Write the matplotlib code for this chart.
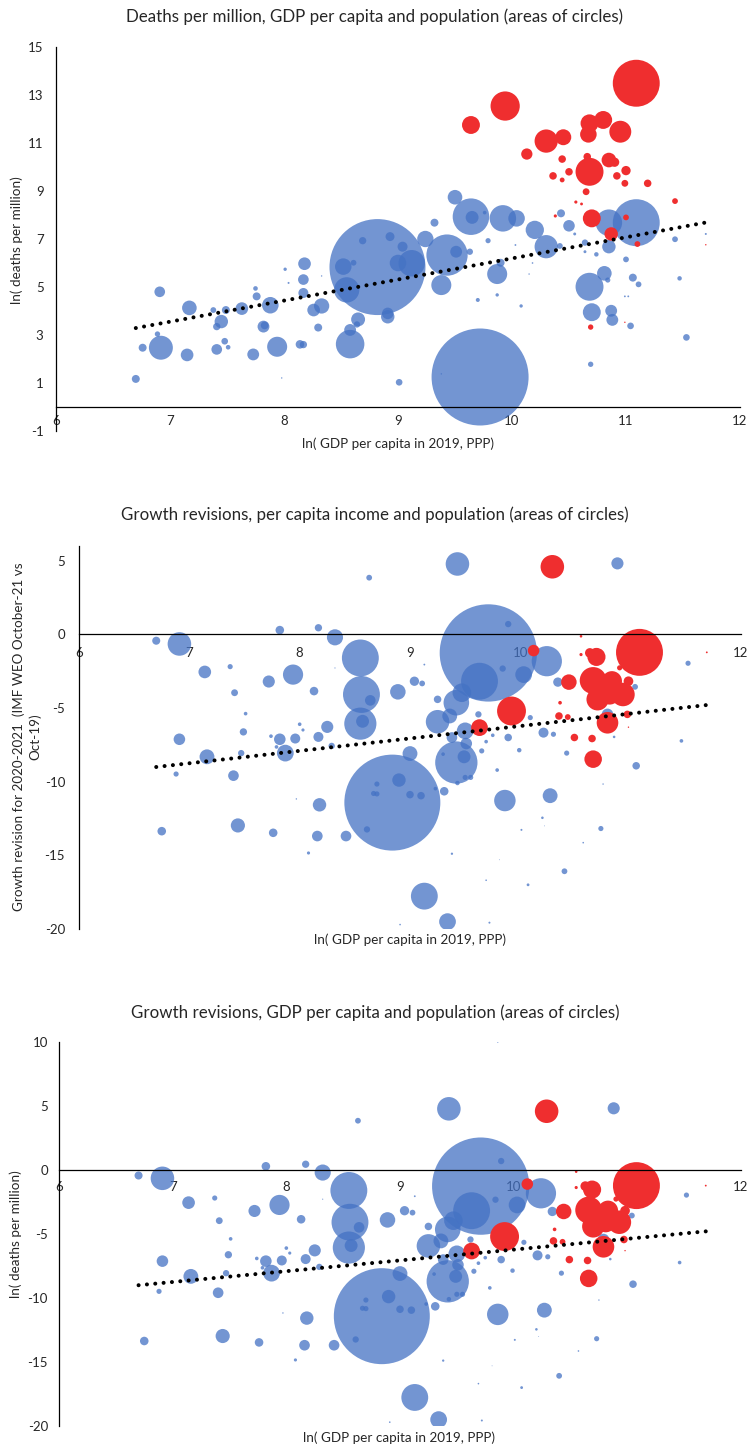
import matplotlib
matplotlib.use("Agg")
import matplotlib.pyplot as plt
import numpy as np

plt.rcParams['font.family'] = ['Lato', 'DejaVu Sans']
plt.rcParams['axes.unicode_minus'] = False

# ---- panel 1: ln(deaths per million) vs ln(GDP per capita) ----
# blue series: x, y, population (millions)
d_blue_x = [6.70, 6.91, 6.76, 6.92, 6.89, 7.17, 7.15, 7.38, 7.45, 7.41, 7.49, 7.41, 7.48, 7.51,
            7.63, 7.75, 7.76, 7.73, 7.82, 7.83, 7.88, 7.94, 7.98, 8.01, 8.04, 8.18, 8.17, 8.17,
            8.26, 8.33, 8.14, 8.17, 8.30, 8.33, 8.58, 8.58, 8.65, 8.64, 8.52, 8.55, 8.69, 8.61,
            8.82, 9.72, 9.01, 9.38, 8.91, 8.91, 9.87, 9.90, 9.70, 9.87, 10.08, 10.68, 10.81, 10.84,
            10.70, 10.87, 10.88, 11.04, 10.69, 10.99, 11.02, 11.06, 11.11, 11.00, 11.47, 11.53,
            11.43, 11.70, 10.85, 10.74, 10.64, 10.30, 10.42, 10.55, 10.64, 9.79, 10.03, 10.15,
            10.18, 9.43, 9.38, 9.24, 9.12, 9.00, 9.04, 8.93, 9.51, 9.63, 9.50, 9.64, 9.65, 9.32,
            9.76, 9.92, 10.04, 10.43, 10.85, 11.09, 10.20, 10.50]
d_blue_y = [1.17, 4.80, 2.47, 2.47, 3.04, 4.13, 2.17, 4.04, 3.56, 3.35, 4.04, 2.40, 2.74, 2.49,
            4.10, 4.94, 4.61, 2.19, 3.35, 3.40, 4.24, 2.51, 1.21, 5.74, 5.17, 5.97, 5.31, 4.75,
            4.04, 4.21, 2.61, 2.60, 3.31, 5.46, 2.62, 3.21, 3.65, 3.44, 5.85, 4.88, 6.93, 6.01,
            5.83, 1.25, 1.03, 1.38, 3.76, 3.90, 5.54, 6.01, 4.46, 4.67, 4.21, 5.01, 5.57, 5.29,
            3.95, 4.01, 3.63, 3.38, 1.78, 4.61, 4.61, 5.39, 5.11, 6.15, 5.36, 2.90,
            6.99, 7.21, 6.68, 6.36, 6.85, 6.68, 6.71, 7.21, 6.47, 6.93, 6.75, 5.54,
            6.00, 6.33, 5.08, 7.00, 5.99, 6.00, 6.68, 7.10, 6.47, 6.47, 8.74, 7.93, 7.90, 7.68,
            8.10, 7.86, 7.86, 8.07, 7.68, 7.68, 7.38, 7.55]
d_blue_pop = [9.5, 17, 9.5, 86, 4.3, 32, 24, 5, 27, 8, 9.5, 17, 6.6, 3.2,
              24, 3.2, 9.5, 21, 21, 9, 41, 60, 0.3, 1.7, 0.6, 24, 17, 15,
              24, 35, 11, 8, 9.5, 0.3, 122, 21, 29, 6, 41, 96, 8, 5,
              1380, 1410, 6.6, 0.3, 27, 20, 60, 9.5, 2.4, 1.7, 1.7, 117, 32, 4,
              48, 21, 21, 6.6, 4.3, 0.5, 0.5, 9.5, 5, 5, 3, 6.6,
              5, 0.6, 27, 3, 6, 81, 5, 1.3, 1.3, 4, 0.5, 0.3,
              0.4, 255, 60, 40, 105, 41, 15, 12, 21, 6, 32, 200, 25, 9.5,
              2, 105, 41, 9.5, 105, 330, 50, 20]
# red series
d_red_x = [11.09, 9.94, 9.64, 10.30, 10.45, 10.68, 10.80, 10.95, 10.67, 10.13, 10.68, 10.85,
           10.90, 10.66, 10.44, 10.36, 10.50, 10.44, 11.00, 10.92, 10.99, 11.19, 10.65, 10.56,
           10.61, 10.38, 10.70, 11.00, 11.43, 11.10, 10.87, 11.70, 10.69, 10.99]
d_red_y = [13.49, 12.54, 11.75, 11.08, 11.24, 11.82, 11.96, 11.47, 11.36, 10.54, 9.80, 10.29,
           10.20, 10.43, 10.33, 9.63, 9.80, 9.46, 9.85, 9.63, 9.32, 9.32, 8.97, 8.54,
           8.46, 7.96, 7.86, 7.90, 8.58, 6.79, 7.21, 6.76, 3.33, 3.53]
d_red_pop = [330, 128, 48, 81, 38, 48, 48, 72, 41, 19, 117, 32,
             13, 8.5, 8.5, 8.5, 8.5, 3.5, 13, 8.5, 7, 8.5, 7, 1.5,
             1.2, 1.5, 48, 5, 5, 5, 27, 0.3, 4.3, 0.3]
d_trend = (0.8795, -2.603)   # slope, intercept

# ---- panels 2 and 3: growth revision 2020-2021 vs ln(GDP per capita) ----
g_blue_x = [6.70, 6.91, 7.14, 7.37, 7.41, 7.51, 7.72, 7.82, 7.94, 8.13, 8.17, 8.32, 8.63, 8.55,
            8.56, 8.64, 8.55, 8.57, 8.00, 8.25, 8.32, 7.49, 6.91, 7.16, 6.88, 6.75, 7.40, 7.44,
            7.47, 7.76, 7.74, 7.82, 7.96, 7.87, 7.79, 8.17, 8.29, 8.03, 8.18, 8.16, 8.42, 8.61,
            7.97, 8.08, 8.67, 8.84, 8.90, 9.00, 9.10, 8.70, 8.70, 9.00, 9.30, 9.23, 9.31, 9.42,
            9.49, 9.50, 9.55, 9.43, 9.50, 9.51, 9.38, 9.25, 9.86, 10.27, 9.79, 9.99, 9.65, 9.69,
            9.75, 9.89, 10.21, 10.30, 10.42, 10.85, 11.05, 11.46, 10.75, 10.20, 10.01, 10.22,
            10.73, 10.57, 10.40, 10.07, 9.69, 9.81, 9.38, 9.13, 9.34, 8.91, 9.72, 9.43, 10.88,
            9.71, 9.89, 10.24, 9.63, 9.84, 10.03, 10.34, 11.52, 9.13, 11.04, 9.25, 9.42, 9.36,
            9.47, 9.62, 8.89, 9.04, 9.11, 10.09, 10.79, 9.86]
g_blue_y = [-0.43, -0.65, -2.55, -2.19, -3.96, -5.38, -3.20, 0.29, -2.73, -3.85, 0.45, -0.20, 3.85, -1.60,
            -4.08, -4.48, -6.06, -5.90, -6.10, -6.28, -2.28, -6.62, -7.12, -8.31, -9.48, -13.36, -9.59, -12.97,
            -8.06, -13.47, -6.91, -7.12, -7.07, -8.06, -7.64, -6.96, -7.57, -6.49, -11.57, -13.69, -13.69, -13.24,
            -11.17, -14.84, -10.80, -11.42, -9.89, -10.88, -10.95, -10.16, -10.83, -8.09, -8.13, -10.47, -10.65, -8.70,
            -8.31, -9.71, -9.71, -10.09, -6.55, -7.41, -7.00, -5.93, -11.28, -10.95, -9.21, -7.86, -7.91, -7.28,
            -6.85, -7.00, -6.67, -6.78, -8.06, -6.96, -8.92, -7.23, -10.16, -12.45, -13.27, -13.00,
            -13.18, -14.14, -16.08, -17.00, -16.69, -15.30, -14.89, -17.77, -19.50, -19.70, -19.57, 4.78, 4.82,
            -1.26, 0.70, -1.82, -3.18, -2.32, -2.73, -3.24, -1.96, -2.05, -3.56, -4.41, -4.64, -5.54,
            -3.96, -5.43, -3.90, -3.18, -3.33, -5.65, -5.43, 10.0]
g_blue_pop = [9.7, 83, 24, 4, 7, 2, 22, 11, 61, 11, 8, 39, 5, 204,
              204, 17, 155, 25, 2, 22, 0.2, 8, 20, 33, 4, 11, 17, 30,
              6, 11, 2, 20, 15, 42, 2, 15, 6, 1.5, 27, 17, 17, 6,
              0.3, 1.5, 4, 1380, 27, 8.5, 8.5, 4, 4, 33, 2, 2, 11, 268,
              25, 4, 4, 3, 42, 20, 17, 83, 69, 33, 2, 3, 4, 2,
              2, 8.5, 15, 4, 4, 1, 8.5, 2, 0.3, 1, 0.6, 0.1,
              4, 0.4, 5, 1.2, 0.4, 0.1, 0.8, 108, 42, 0.4, 0.6, 83, 22,
              1418, 6, 137, 204, 6, 42, 13, 4, 0.5, 5, 8.5, 98, 33,
              52, 6, 36, 13, 5, 4, 20, 0.3]
g_red_x = [10.29, 10.12, 10.44, 10.69, 10.63, 11.08, 10.55, 10.55, 11.69, 10.66, 10.83, 10.98,
           10.70, 10.81, 10.93, 10.90, 10.36, 10.35, 10.43, 9.92, 9.63, 10.79, 10.97, 10.98,
           10.49, 10.65, 10.66]
g_red_y = [4.59, -1.10, -3.24, -1.53, -1.26, -1.22, -0.13, -1.37, -1.22, -3.13, -3.18, -3.18,
           -4.41, -4.08, -4.08, -2.27, -4.64, -5.54, -5.61, -5.20, -6.33, -6.00, -5.43, -6.30,
           -7.00, -7.07, -8.47]
g_red_pop = [83, 20, 36, 49, 14, 330, 1, 1.5, 0.5, 108, 61, 14,
             74, 61, 83, 4, 2, 8.5, 5, 125, 42, 70, 8.5, 0.3,
             8.5, 8.5, 46]
g_trend = (0.843, -14.65)

x_label = "ln( GDP per capita in 2019, PPP)"
titles = ["Deaths per million, GDP per capita and population (areas of circles)",
          "Growth revisions, per capita income and population (areas of circles)",
          "Growth revisions, GDP per capita and population (areas of circles)"]

W, H = 750, 1449
fig = plt.figure(figsize=(7.5, 14.49), dpi=100)
BLUE = '#4472C4'
RED = '#EF2E2F'
TXT = '#262626'
K = 3.46  # points^2 per million people


def px_axes(x0, x1, y0, y1):
    return fig.add_axes([x0 / W, 1 - y1 / H, (x1 - x0) / W, (y1 - y0) / H])


def draw(ax, bx, by, bp, rx, ry, rp, trend, ylim, yticks, xpad, ypad):
    ax.scatter(bx, by, s=K * np.array(bp), color=BLUE, alpha=0.75, linewidths=0, zorder=2)
    ax.scatter(rx, ry, s=K * np.array(rp), color=RED, linewidths=0, zorder=2)
    allx = np.array(bx + rx)
    xs = np.linspace(allx.min(), allx.max(), 2)
    ax.plot(xs, trend[0] * xs + trend[1], color='black', lw=2.9,
            linestyle=(0, (0.01, 2.07)), dash_capstyle='round', zorder=3)
    ax.set_xlim(6, 12)
    ax.set_ylim(*ylim)
    ax.set_xticks(range(6, 13))
    ax.set_yticks(yticks)
    for s in ['top', 'right']:
        ax.spines[s].set_visible(False)
    ax.spines['bottom'].set_position(('data', 0))
    for s in ['bottom', 'left']:
        ax.spines[s].set_linewidth(0.9)
        ax.spines[s].set_color('black')
    ax.tick_params(length=0, labelsize=9.5, labelcolor=TXT)
    ax.tick_params(axis='x', pad=xpad)
    ax.tick_params(axis='y', pad=ypad)


ax1 = px_axes(56, 740, 47, 431)
draw(ax1, d_blue_x, d_blue_y, d_blue_pop, d_red_x, d_red_y, d_red_pop, d_trend,
     (-1, 15), range(-1, 16, 2), 6, 9)

ax2 = px_axes(79, 741, 546, 929)
draw(ax2, g_blue_x, g_blue_y, g_blue_pop, g_red_x, g_red_y, g_red_pop, g_trend,
     (-20, 6), range(-20, 6, 5), 9, 10)

ax3 = px_axes(59, 741, 1042, 1426)
draw(ax3, g_blue_x, g_blue_y, g_blue_pop, g_red_x, g_red_y, g_red_pop, g_trend,
     (-20, 10), range(-20, 11, 5), 8, 8)

fs_title = 12.2
fs_lab = 9.7
fig.text(375 / W, 1 - 17 / H, titles[0], ha='center', va='center', fontsize=fs_title, color=TXT)
fig.text(375 / W, 1 - 515 / H, titles[1], ha='center', va='center', fontsize=fs_title, color=TXT)
fig.text(375 / W, 1 - 1013 / H, titles[2], ha='center', va='center', fontsize=fs_title, color=TXT)

fig.text(398 / W, 1 - 444 / H, x_label, ha='center', va='center', fontsize=fs_lab, color=TXT)
fig.text(410 / W, 1 - 940 / H, x_label, ha='center', va='center', fontsize=fs_lab, color=TXT)
fig.text(399 / W, 1 - 1438 / H, x_label, ha='center', va='center', fontsize=fs_lab, color=TXT)

fig.text(17 / W, 1 - 240 / H, "ln( deaths per million)", rotation=90,
         ha='center', va='center', fontsize=fs_lab, color=TXT)
fig.text(27 / W, 1 - 737 / H, "Growth revision for 2020-2021  (IMF WEO October-21 vs\nOct-19)",
         rotation=90, ha='center', va='center', fontsize=fs_lab, color=TXT, linespacing=1.35)
fig.text(16 / W, 1 - 1234 / H, "ln( deaths per million)", rotation=90,
         ha='center', va='center', fontsize=fs_lab, color=TXT)

fig.savefig("out.png", dpi=100)
